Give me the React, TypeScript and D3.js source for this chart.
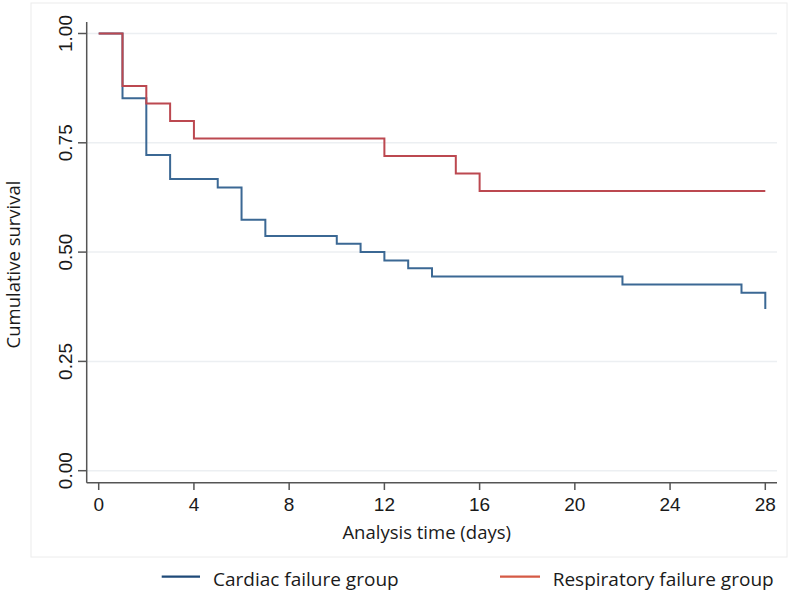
import React from "react";
import * as d3 from "d3";

const cardiacTimes = [0, 1, 2, 3, 5, 6, 7, 10, 11, 12, 13, 14, 22, 27, 28];
const cardiacSurvival = [1, 0.852, 0.722, 0.667, 0.648, 0.574, 0.537, 0.519, 0.5, 0.481, 0.463, 0.444, 0.426, 0.407, 0.37];
const respTimes = [0, 1, 2, 3, 4, 12, 15, 16, 28];
const respSurvival = [1, 0.88, 0.84, 0.8, 0.76, 0.72, 0.68, 0.64, 0.64];
const xTicks = [0, 4, 8, 12, 16, 20, 24, 28];
const yTicks = [0, 0.25, 0.5, 0.75, 1];
const seriesNames = ["Cardiac failure group", "Respiratory failure group"];

const W = 800;
const H = 596;

export default function App() {
  const x = d3.scaleLinear().domain([0, 28]).range([98.7, 765.3]);
  const y = d3.scaleLinear().domain([0, 1]).range([470.7, 33.5]);
  const line = d3
    .line<[number, number]>()
    .x((d) => x(d[0]))
    .y((d) => y(d[1]))
    .curve(d3.curveStepAfter);
  const cardiac: [number, number][] = cardiacTimes.map((t, i) => [t, cardiacSurvival[i]]);
  const resp: [number, number][] = respTimes.map((t, i) => [t, respSurvival[i]]);

  const axisX = 86.7;
  const axisY = 482.7;
  const tickFont = "'Liberation Sans', Arial, sans-serif";
  const labelFont = "'Open Sans', 'Noto Sans', sans-serif";

  return (
    <svg
      width={W}
      height={H}
      style={{ position: "absolute", left: 0, top: 0, background: "#fff" }}
    >
      <rect x={0} y={0} width={W} height={H} fill="#fff" />
      <rect x={31} y={3} width={756} height={554} fill="none" stroke="#ececec" strokeWidth={1} />
      {yTicks.map((t) => (
        <line key={"g" + t} x1={axisX} x2={777} y1={y(t)} y2={y(t)} stroke="#eceff2" strokeWidth={1.5} />
      ))}
      <line x1={axisX} x2={axisX} y1={22} y2={axisY} stroke="#555" strokeWidth={1.5} />
      <line x1={axisX} x2={777} y1={axisY} y2={axisY} stroke="#555" strokeWidth={1.5} />
      {yTicks.map((t) => (
        <g key={"y" + t}>
          <line x1={78} x2={axisX} y1={y(t)} y2={y(t)} stroke="#555" strokeWidth={1.5} />
          <text
            transform={`translate(71.7,${y(t)}) rotate(-90)`}
            textAnchor="middle"
            fontFamily={tickFont}
            fontSize={19}
            fill="#1a1a1a"
          >
            {t.toFixed(2)}
          </text>
        </g>
      ))}
      {xTicks.map((t) => (
        <g key={"x" + t}>
          <line x1={x(t)} x2={x(t)} y1={axisY} y2={490} stroke="#555" strokeWidth={1.5} />
          <text x={x(t)} y={511} textAnchor="middle" fontFamily={tickFont} fontSize={19} fill="#1a1a1a">
            {t}
          </text>
        </g>
      ))}
      <text x={426.7} y={538.5} textAnchor="middle" fontFamily={labelFont} fontSize={18.5} fill="#1a1a1a">
        Analysis time (days)
      </text>
      <text
        transform={`translate(20,264.5) rotate(-90)`}
        textAnchor="middle"
        fontFamily={labelFont}
        fontSize={18.5}
        fill="#1a1a1a"
      >
        Cumulative survival
      </text>
      <path d={line(cardiac) || ""} fill="none" stroke="#3b6894" strokeWidth={2} />
      <path d={line(resp) || ""} fill="none" stroke="#bc4850" strokeWidth={2} />
      <line x1={161.7} x2={200} y1={576.7} y2={576.7} stroke="#1f4a78" strokeWidth={2.2} />
      <text x={213} y={586} fontFamily={labelFont} fontSize={19} fill="#1a1a1a">
        {seriesNames[0]}
      </text>
      <line x1={500} x2={540} y1={576.7} y2={576.7} stroke="#d55a45" strokeWidth={2.2} />
      <text x={552.7} y={586} fontFamily={labelFont} fontSize={19} fill="#1a1a1a">
        {seriesNames[1]}
      </text>
    </svg>
  );
}
